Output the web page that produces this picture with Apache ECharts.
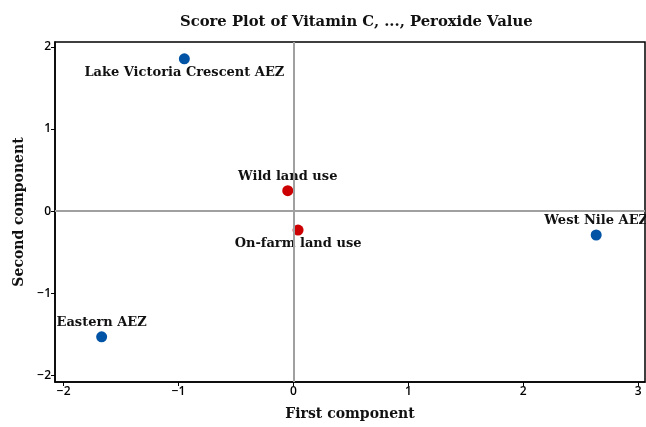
<!DOCTYPE html>
<html>
<head>
<meta charset="utf-8">
<script src="https://cdn.jsdelivr.net/npm/echarts@6/dist/echarts.min.js"></script>
<style>
  html, body { margin: 0; padding: 0; background: #fff; }
</style>
</head>
<body>
<div id="myChart" style="width: 646px; height: 427px;"></div>
<script>
// scores
var names = ["Lake Victoria Crescent AEZ", "Eastern AEZ", "West Nile AEZ", "Wild land use", "On-farm land use"];
var firstComp = [-0.95, -1.67, 2.635, -0.05, 0.04];
var secondComp = [1.855, -1.53, -0.29, 0.25, -0.23];
var groups = ["aez", "aez", "aez", "land", "land"];
var labelPos = ["bottom", "top", "top", "top", "bottom"];
var xTicks = [-2, -1, 0, 1, 2, 3];
var yTicks = [-2, -1, 0, 1, 2];

var serif = "DejaVu Serif";
var sans = "Open Sans";

function pts(group) {
  var out = [];
  for (var i = 0; i < names.length; i++) {
    if (groups[i] != group) continue;
    out.push({
      name: names[i],
      value: [firstComp[i], secondComp[i]],
      label: { position: labelPos[i] }
    });
  }
  return out;
}

function minus(v) {
  return String(v).replace("-", "\u2212");
}

var myChart = echarts.init(document.getElementById("myChart"));
var option = {
  animation: false,
  title: {
    text: "Score Plot of Vitamin C, ..., Peroxide Value",
    left: 175,
    top: 10,
    textStyle: { fontFamily: serif, fontWeight: "bold", fontSize: 14.8, color: "#111" }
  },
  grid: {
    left: 55,
    right: 1,
    top: 42,
    bottom: 45,
    show: true,
    borderColor: "#000",
    borderWidth: 1.5
  },
  xAxis: {
    type: "value",
    min: -2.076,
    max: 3.06,
    name: "First component",
    nameLocation: "middle",
    nameGap: 25,
    nameTextStyle: { fontFamily: serif, fontWeight: "bold", fontSize: 14, color: "#111" },
    axisLine: { onZero: false, lineStyle: { color: "#000", width: 1.5 } },
    axisTick: { show: true, length: 4, customValues: xTicks, lineStyle: { color: "#000" } },
    axisLabel: {
      customValues: xTicks,
      formatter: minus,
      fontFamily: sans,
      fontWeight: 600,
      fontSize: 12,
      color: "#000",
      margin: 4
    },
    splitLine: { show: false }
  },
  yAxis: {
    type: "value",
    min: -2.08,
    max: 2.06,
    name: "Second component",
    nameLocation: "middle",
    nameGap: 28,
    nameTextStyle: { fontFamily: serif, fontWeight: "bold", fontSize: 14, color: "#111" },
    axisLine: { onZero: false, lineStyle: { color: "#000", width: 1.5 } },
    axisTick: { show: true, length: 4, customValues: yTicks, lineStyle: { color: "#000" } },
    axisLabel: {
      customValues: yTicks,
      formatter: minus,
      fontFamily: sans,
      fontWeight: 600,
      fontSize: 12,
      color: "#000",
      margin: 4
    },
    splitLine: { show: false }
  },
  series: [
    {
      type: "scatter",
      name: "ref",
      data: [],
      silent: true,
      markLine: {
        silent: true,
        symbol: "none",
        label: { show: false },
        lineStyle: { color: "#a0a0a0", width: 2, type: "solid" },
        data: [{ xAxis: 0 }, { yAxis: 0 }]
      }
    },
    {
      type: "scatter",
      name: "AEZ",
      data: pts("aez"),
      symbolSize: 11,
      itemStyle: { color: "#0053a5", opacity: 1 },
      label: {
        show: true,
        formatter: "{b}",
        distance: 2,
        fontFamily: serif,
        fontWeight: "bold",
        fontSize: 13,
        color: "#111"
      }
    },
    {
      type: "scatter",
      name: "Land use",
      data: pts("land"),
      symbolSize: 11,
      itemStyle: { color: "#cc0000", opacity: 1 },
      label: {
        show: true,
        formatter: "{b}",
        distance: 2,
        fontFamily: serif,
        fontWeight: "bold",
        fontSize: 13,
        color: "#111"
      }
    }
  ]
};
myChart.setOption(option);
</script>
</body>
</html>
